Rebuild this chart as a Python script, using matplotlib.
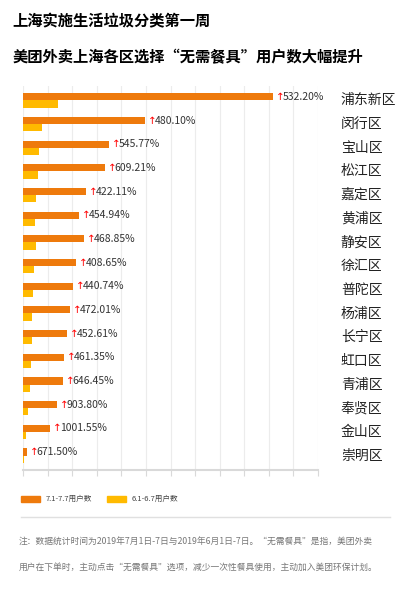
import matplotlib
matplotlib.use("Agg")
import matplotlib.pyplot as plt
import numpy as np

plt.rcParams['font.family'] = ['Noto Sans CJK SC', 'DejaVu Sans']

districts = ["浦东新区", "闵行区", "宝山区", "松江区", "嘉定区", "黄浦区", "静安区", "徐汇区",
             "普陀区", "杨浦区", "长宁区", "虹口区", "青浦区", "奉贤区", "金山区", "崇明区"]
july = [250, 122, 86, 82, 63, 56, 61, 53, 50, 47, 44, 41, 40, 34, 27, 4]
june = [35, 19, 16, 15, 13, 12, 13, 11, 10, 9, 9, 8, 7, 5, 3, 1]
growth = ["532.20%", "480.10%", "545.77%", "609.21%", "422.11%", "454.94%", "468.85%", "408.65%",
          "440.74%", "472.01%", "452.61%", "461.35%", "646.45%", "903.80%", "1001.55%", "671.50%"]

orange = "#EE7A0C"
yellow = "#FFBA00"

fig = plt.figure(figsize=(4.19, 6.03), dpi=100)
fig.text(0.03, 0.965, "上海实施生活垃圾分类第一周", fontsize=11, fontweight="bold", va="center")
fig.text(0.03, 0.905, "美团外卖上海各区选择“无需餐具”用户数大幅提升", fontsize=11, fontweight="bold", va="center")

ax = fig.add_axes([0.055, 0.221, 0.704, 0.636])
y = np.arange(len(districts))
ax.barh(y - 0.15, july, height=0.3, color=orange, zorder=2)
ax.barh(y + 0.15, june, height=0.3, color=yellow, zorder=2)
for i, (v, g) in enumerate(zip(july, growth)):
    ax.annotate("↑", (v, i - 0.15), xytext=(2, 0), textcoords="offset points",
                color="red", fontsize=7.5, va="center", ha="left", family="DejaVu Sans")
    ax.annotate(g, (v, i - 0.15), xytext=(7, 0), textcoords="offset points",
                color="#333333", fontsize=7.5, va="center", ha="left")
    ax.text(318, i, districts[i], fontsize=10, va="center", ha="left", color="#222222", clip_on=False)
ax.set_xlim(0, 295)
ax.set_ylim(len(districts) - 0.4, -0.6)
ax.set_xticks(np.arange(0, 296, 24.6))
ax.set_xticklabels([])
ax.set_yticks([])
ax.grid(axis="x", color="#ececec", lw=0.8, zorder=0)
for s in ["top", "right", "left"]:
    ax.spines[s].set_visible(False)
ax.spines["bottom"].set_color("#d9d9d9")
ax.spines["bottom"].set_linewidth(1.5)
ax.tick_params(axis="x", length=4, color="#d9d9d9")

fig.patches.append(plt.Rectangle((0.05, 0.168), 0.045, 0.009, color=orange, transform=fig.transFigure))
fig.text(0.11, 0.172, "7.1-7.7用户数", fontsize=5.5, va="center", color="#444444")
fig.patches.append(plt.Rectangle((0.255, 0.168), 0.045, 0.009, color=yellow, transform=fig.transFigure))
fig.text(0.315, 0.172, "6.1-6.7用户数", fontsize=5.5, va="center", color="#444444")
fig.add_artist(plt.Line2D([0.05, 0.93], [0.143, 0.143], color="#e0e0e0", lw=1, transform=fig.transFigure))
fig.text(0.045, 0.1, "注：数据统计时间为2019年7月1日-7日与2019年6月1日-7日。“无需餐具”是指，美团外卖",
         fontsize=6.3, color="#777777", va="center")
fig.text(0.045, 0.06, "用户在下单时，主动点击“无需餐具”选项，减少一次性餐具使用，主动加入美团环保计划。",
         fontsize=6.3, color="#777777", va="center")
fig.savefig("out.png", dpi=100)
